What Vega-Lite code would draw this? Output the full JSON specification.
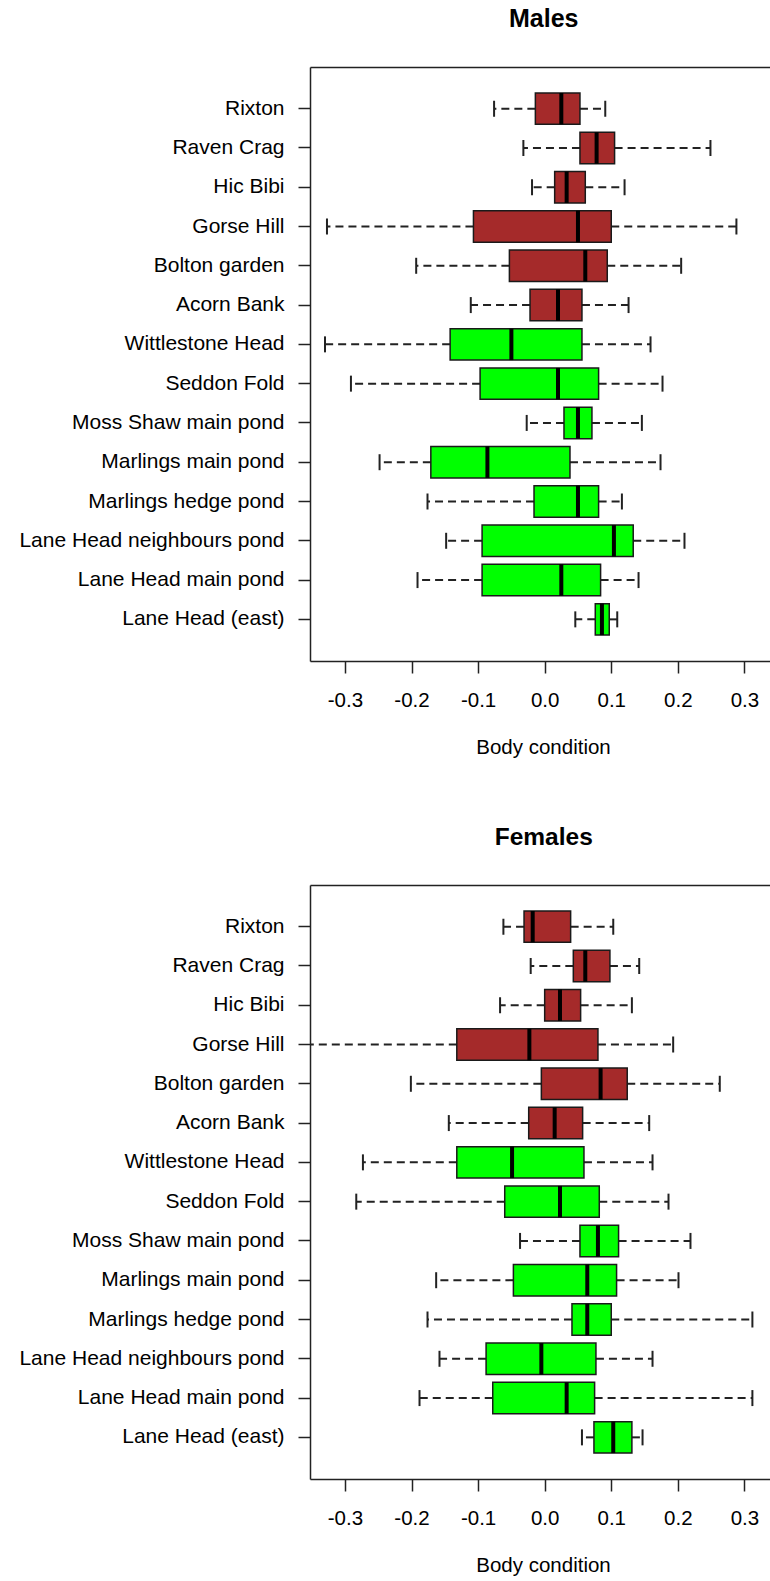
{
  "$schema": "https://vega.github.io/schema/vega-lite/v6.json",
  "padding": {"left": 18, "top": 7, "right": 0, "bottom": 0},
  "spacing": 66,
  "config": {"font": "Liberation Sans", "view": {"stroke": null}},
  "datasets": {
    "boxes": [
      {"sex": "Males", "site": "Rixton", "group": "Group A", "lo": -0.076, "q1": -0.014, "med": 0.025, "q3": 0.053, "hi": 0.091},
      {"sex": "Males", "site": "Raven Crag", "group": "Group A", "lo": -0.032, "q1": 0.053, "med": 0.078, "q3": 0.105, "hi": 0.249},
      {"sex": "Males", "site": "Hic Bibi", "group": "Group A", "lo": -0.019, "q1": 0.015, "med": 0.033, "q3": 0.061, "hi": 0.120},
      {"sex": "Males", "site": "Gorse Hill", "group": "Group A", "lo": -0.327, "q1": -0.107, "med": 0.050, "q3": 0.100, "hi": 0.288},
      {"sex": "Males", "site": "Bolton garden", "group": "Group A", "lo": -0.193, "q1": -0.053, "med": 0.061, "q3": 0.094, "hi": 0.205},
      {"sex": "Males", "site": "Acorn Bank", "group": "Group A", "lo": -0.111, "q1": -0.022, "med": 0.020, "q3": 0.056, "hi": 0.126},
      {"sex": "Males", "site": "Wittlestone Head", "group": "Group B", "lo": -0.330, "q1": -0.142, "med": -0.050, "q3": 0.056, "hi": 0.159},
      {"sex": "Males", "site": "Seddon Fold", "group": "Group B", "lo": -0.291, "q1": -0.097, "med": 0.020, "q3": 0.081, "hi": 0.177},
      {"sex": "Males", "site": "Moss Shaw main pond", "group": "Group B", "lo": -0.027, "q1": 0.029, "med": 0.050, "q3": 0.071, "hi": 0.146},
      {"sex": "Males", "site": "Marlings main pond", "group": "Group B", "lo": -0.248, "q1": -0.171, "med": -0.086, "q3": 0.038, "hi": 0.174},
      {"sex": "Males", "site": "Marlings hedge pond", "group": "Group B", "lo": -0.176, "q1": -0.016, "med": 0.050, "q3": 0.081, "hi": 0.116},
      {"sex": "Males", "site": "Lane Head neighbours pond", "group": "Group B", "lo": -0.148, "q1": -0.094, "med": 0.104, "q3": 0.133, "hi": 0.210},
      {"sex": "Males", "site": "Lane Head main pond", "group": "Group B", "lo": -0.191, "q1": -0.094, "med": 0.025, "q3": 0.084, "hi": 0.141},
      {"sex": "Males", "site": "Lane Head (east)", "group": "Group B", "lo": 0.046, "q1": 0.076, "med": 0.086, "q3": 0.097, "hi": 0.109},
      {"sex": "Females", "site": "Rixton", "group": "Group A", "lo": -0.062, "q1": -0.031, "med": -0.018, "q3": 0.039, "hi": 0.103},
      {"sex": "Females", "site": "Raven Crag", "group": "Group A", "lo": -0.021, "q1": 0.043, "med": 0.061, "q3": 0.098, "hi": 0.142},
      {"sex": "Females", "site": "Hic Bibi", "group": "Group A", "lo": -0.067, "q1": 0.000, "med": 0.023, "q3": 0.054, "hi": 0.131},
      {"sex": "Females", "site": "Gorse Hill", "group": "Group A", "lo": -0.370, "q1": -0.132, "med": -0.023, "q3": 0.080, "hi": 0.193},
      {"sex": "Females", "site": "Bolton garden", "group": "Group A", "lo": -0.201, "q1": -0.005, "med": 0.084, "q3": 0.124, "hi": 0.263},
      {"sex": "Females", "site": "Acorn Bank", "group": "Group A", "lo": -0.144, "q1": -0.024, "med": 0.015, "q3": 0.057, "hi": 0.157},
      {"sex": "Females", "site": "Wittlestone Head", "group": "Group B", "lo": -0.273, "q1": -0.132, "med": -0.049, "q3": 0.059, "hi": 0.162},
      {"sex": "Females", "site": "Seddon Fold", "group": "Group B", "lo": -0.283, "q1": -0.060, "med": 0.023, "q3": 0.082, "hi": 0.186},
      {"sex": "Females", "site": "Moss Shaw main pond", "group": "Group B", "lo": -0.037, "q1": 0.053, "med": 0.080, "q3": 0.111, "hi": 0.219},
      {"sex": "Females", "site": "Marlings main pond", "group": "Group B", "lo": -0.163, "q1": -0.047, "med": 0.064, "q3": 0.108, "hi": 0.201},
      {"sex": "Females", "site": "Marlings hedge pond", "group": "Group B", "lo": -0.176, "q1": 0.041, "med": 0.064, "q3": 0.100, "hi": 0.312},
      {"sex": "Females", "site": "Lane Head neighbours pond", "group": "Group B", "lo": -0.158, "q1": -0.088, "med": -0.005, "q3": 0.077, "hi": 0.162},
      {"sex": "Females", "site": "Lane Head main pond", "group": "Group B", "lo": -0.188, "q1": -0.078, "med": 0.033, "q3": 0.075, "hi": 0.312},
      {"sex": "Females", "site": "Lane Head (east)", "group": "Group B", "lo": 0.056, "q1": 0.074, "med": 0.103, "q3": 0.131, "hi": 0.147}
    ]
  },
  "data": {"name": "boxes"},
  "vconcat": [
    {
      "title": {"text": "Males", "fontSize": 25, "fontWeight": "bold", "font": "Liberation Sans", "color": "#000", "anchor": "middle", "frame": "group", "baseline": "alphabetic", "offset": 15, "dx": 3},
      "width": 461.5,
      "height": 594,
      "transform": [{"filter": "datum.sex === 'Males'"}],
      "encoding": {
        "y": {"field": "site", "type": "nominal",
          "scale": {"type": "band", "domain": ["Rixton", "Raven Crag", "Hic Bibi", "Gorse Hill", "Bolton garden", "Acorn Bank", "Wittlestone Head", "Seddon Fold", "Moss Shaw main pond", "Marlings main pond", "Marlings hedge pond", "Lane Head neighbours pond", "Lane Head main pond", "Lane Head (east)"], "paddingInner": 0, "paddingOuter": 0.56},
          "axis": {"title": null, "labelFontSize": 21, "labelColor": "#000", "labelFont": "Liberation Sans", "labelLimit": 500, "labelPadding": 14, "tickSize": 12, "tickColor": "#222", "tickWidth": 1.5, "domainColor": "#222", "domainWidth": 1.5, "grid": false}}
      },
      "layer": [
        {"mark": {"type": "rule", "strokeDash": [8, 5], "color": "#222", "strokeWidth": 2, "clip": true},
         "encoding": {"x": {"field": "q1", "type": "quantitative", "scale": {"domain": [-0.3525, 0.3407], "nice": false, "zero": false},
            "axis": {"values": [-0.3, -0.2, -0.1, 0, 0.1, 0.2, 0.3], "labelExpr": "replace(format(datum.value, '.1f'), '\u2212', '-')", "grid": false, "tickSize": 12, "tickColor": "#222", "tickWidth": 1.5, "domainColor": "#222", "domainWidth": 1.5, "labelFontSize": 20.5, "labelColor": "#000", "labelFont": "Liberation Sans", "labelPadding": 17.5, "title": "Body condition", "titleFontSize": 20.5, "titleFontWeight": "normal", "titleFont": "Liberation Sans", "titleColor": "#000", "titleBaseline": "alphabetic", "titleX": 233, "titleY": 92, "titleAlign": "center"}},
           "x2": {"field": "lo"}}},
        {"mark": {"type": "rule", "strokeDash": [8, 5], "color": "#222", "strokeWidth": 2, "clip": true},
         "encoding": {"x": {"field": "q3", "type": "quantitative",
            "axis": {"orient": "top", "labels": false, "ticks": false, "domain": true, "domainColor": "#222", "domainWidth": 1.5, "title": null, "grid": false}},
           "x2": {"field": "hi"}}},
        {"mark": {"type": "tick", "orient": "vertical", "size": 16, "thickness": 2, "color": "#222", "opacity": 1, "clip": true},
         "encoding": {"x": {"field": "lo", "type": "quantitative", "axis": null}}},
        {"mark": {"type": "tick", "orient": "vertical", "size": 16, "thickness": 2, "color": "#222", "opacity": 1, "clip": true},
         "encoding": {"x": {"field": "hi", "type": "quantitative", "axis": null}}},
        {"mark": {"type": "bar", "height": {"band": 0.8}, "stroke": "#1a1a1a", "strokeWidth": 1.5, "opacity": 1, "clip": true},
         "encoding": {"x": {"field": "q1", "type": "quantitative", "axis": null}, "x2": {"field": "q3"},
           "color": {"field": "group", "type": "nominal", "scale": {"domain": ["Group A", "Group B"], "range": ["#A52A2A", "#00FF00"]}, "legend": null}}},
        {"mark": {"type": "tick", "orient": "vertical", "size": 31.4, "thickness": 4, "color": "#000", "opacity": 1, "clip": true},
         "encoding": {"x": {"field": "med", "type": "quantitative", "axis": null}}}
      ],
      "resolve": {"axis": {"x": "independent"}}
    },
    {
      "title": {"text": "Females", "fontSize": 24.5, "fontWeight": "bold", "font": "Liberation Sans", "color": "#000", "anchor": "middle", "frame": "group", "baseline": "alphabetic", "offset": 16, "dx": 3},
      "width": 461.5,
      "height": 594,
      "transform": [{"filter": "datum.sex === 'Females'"}],
      "encoding": {
        "y": {"field": "site", "type": "nominal",
          "scale": {"type": "band", "domain": ["Rixton", "Raven Crag", "Hic Bibi", "Gorse Hill", "Bolton garden", "Acorn Bank", "Wittlestone Head", "Seddon Fold", "Moss Shaw main pond", "Marlings main pond", "Marlings hedge pond", "Lane Head neighbours pond", "Lane Head main pond", "Lane Head (east)"], "paddingInner": 0, "paddingOuter": 0.56},
          "axis": {"title": null, "labelFontSize": 21, "labelColor": "#000", "labelFont": "Liberation Sans", "labelLimit": 500, "labelPadding": 14, "tickSize": 12, "tickColor": "#222", "tickWidth": 1.5, "domainColor": "#222", "domainWidth": 1.5, "grid": false}}
      },
      "layer": [
        {"mark": {"type": "rule", "strokeDash": [8, 5], "color": "#222", "strokeWidth": 2, "clip": true},
         "encoding": {"x": {"field": "q1", "type": "quantitative", "scale": {"domain": [-0.3525, 0.3407], "nice": false, "zero": false},
            "axis": {"values": [-0.3, -0.2, -0.1, 0, 0.1, 0.2, 0.3], "labelExpr": "replace(format(datum.value, '.1f'), '\u2212', '-')", "grid": false, "tickSize": 12, "tickColor": "#222", "tickWidth": 1.5, "domainColor": "#222", "domainWidth": 1.5, "labelFontSize": 20.5, "labelColor": "#000", "labelFont": "Liberation Sans", "labelPadding": 17.5, "title": "Body condition", "titleFontSize": 20.5, "titleFontWeight": "normal", "titleFont": "Liberation Sans", "titleColor": "#000", "titleBaseline": "alphabetic", "titleX": 233, "titleY": 92, "titleAlign": "center"}},
           "x2": {"field": "lo"}}},
        {"mark": {"type": "rule", "strokeDash": [8, 5], "color": "#222", "strokeWidth": 2, "clip": true},
         "encoding": {"x": {"field": "q3", "type": "quantitative",
            "axis": {"orient": "top", "labels": false, "ticks": false, "domain": true, "domainColor": "#222", "domainWidth": 1.5, "title": null, "grid": false}},
           "x2": {"field": "hi"}}},
        {"mark": {"type": "tick", "orient": "vertical", "size": 16, "thickness": 2, "color": "#222", "opacity": 1, "clip": true},
         "encoding": {"x": {"field": "lo", "type": "quantitative", "axis": null}}},
        {"mark": {"type": "tick", "orient": "vertical", "size": 16, "thickness": 2, "color": "#222", "opacity": 1, "clip": true},
         "encoding": {"x": {"field": "hi", "type": "quantitative", "axis": null}}},
        {"mark": {"type": "bar", "height": {"band": 0.8}, "stroke": "#1a1a1a", "strokeWidth": 1.5, "opacity": 1, "clip": true},
         "encoding": {"x": {"field": "q1", "type": "quantitative", "axis": null}, "x2": {"field": "q3"},
           "color": {"field": "group", "type": "nominal", "scale": {"domain": ["Group A", "Group B"], "range": ["#A52A2A", "#00FF00"]}, "legend": null}}},
        {"mark": {"type": "tick", "orient": "vertical", "size": 31.4, "thickness": 4, "color": "#000", "opacity": 1, "clip": true},
         "encoding": {"x": {"field": "med", "type": "quantitative", "axis": null}}}
      ],
      "resolve": {"axis": {"x": "independent"}}
    }
  ]
}
